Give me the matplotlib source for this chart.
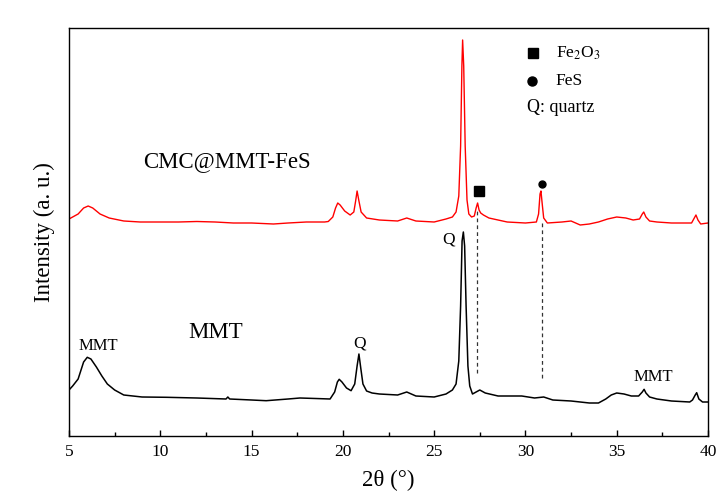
import matplotlib
matplotlib.use("Agg")
import matplotlib.pyplot as plt
import numpy as np

plt.rcParams['font.family'] = ['Liberation Serif', 'DejaVu Serif']
plt.rcParams['mathtext.fontset'] = 'stix'

# ---- data (2theta, intensity in a.u.) ----
cmc_2theta = [5.0, 5.5, 5.8, 6.05, 6.3, 6.7, 7.2, 8.0, 8.9, 10.0, 11.0, 12.0, 13.0, 14.0,
              15.0, 16.2, 17.0, 18.0, 19.0, 19.2, 19.45, 19.6, 19.72, 19.85, 20.1, 20.4,
              20.6, 20.7, 20.78, 20.87, 21.0, 21.3, 22.0, 23.0, 23.5, 24.0, 25.0, 25.65,
              26.0, 26.2, 26.35, 26.45, 26.52, 26.56, 26.62, 26.7, 26.8, 26.9, 27.05,
              27.2, 27.3, 27.38, 27.46, 27.55, 27.7, 28.0, 28.5, 29.0, 30.0, 30.6, 30.72,
              30.8, 30.85, 30.92, 31.0, 31.2, 32.0, 32.5, 33.0, 33.5, 34.0, 34.5, 35.0,
              35.5, 35.9, 36.25, 36.4, 36.48, 36.6, 36.8, 37.2, 38.0, 39.0, 39.1, 39.25,
              39.34, 39.45, 39.6, 40.0]
cmc_int = [217, 222, 228, 230, 228, 222, 218, 215, 214, 214, 214, 214.5, 214, 213,
           213, 212, 213, 214, 214, 214.5, 219, 228, 233, 231, 225, 221,
           224, 235, 245, 236, 224, 218, 216, 215, 218, 215, 214, 217,
           219, 224, 240, 290, 370, 396, 370, 290, 236, 222, 219,
           220, 228, 233, 226, 223, 221, 218, 216, 214, 213, 214, 222,
           242, 245, 232, 218, 213, 214, 215, 211, 212, 214, 217, 219,
           218, 216, 217, 222, 224, 219, 215, 214, 213, 213, 213, 218,
           221, 216, 212, 213]

mmt_2theta = [5.0, 5.2, 5.5, 5.8, 6.0, 6.2, 6.5, 6.8, 7.1, 7.5, 8.0, 9.0, 10.35, 12.0,
              13.6, 13.7, 13.8, 15.0, 15.8, 17.0, 17.65, 18.5, 19.3, 19.55, 19.7, 19.8,
              19.95, 20.2, 20.45, 20.65, 20.78, 20.88, 20.98, 21.1, 21.3, 21.6, 22.0,
              23.0, 23.5, 24.0, 25.0, 25.65, 26.0, 26.2, 26.35, 26.45, 26.53, 26.6,
              26.67, 26.75, 26.85, 26.95, 27.1, 27.5, 27.8, 28.5, 29.8, 30.5, 31.0,
              31.5, 32.5, 33.5, 34.0, 34.4, 34.7, 35.0, 35.4, 35.8, 36.2, 36.4, 36.5,
              36.6, 36.8, 37.2, 38.0, 39.0, 39.15, 39.3, 39.38, 39.5, 39.7, 40.0]
mmt_int = [46, 50, 57, 74, 78.7, 77, 69, 60, 52, 46, 41, 39, 38.7, 38,
           37, 39, 37, 36, 35.3, 37, 38, 37.5, 37, 44, 54, 56.7,
           54, 48, 45.3, 52, 70, 82, 68, 52, 45, 43, 42,
           41, 44, 40, 39, 42, 46, 52, 75, 130, 195, 204,
           190, 130, 70, 50, 42, 46, 43, 40, 40, 38, 39,
           36, 35, 33, 33, 37, 41, 43, 42, 40, 40, 44, 46.7,
           43, 39, 37, 35, 34, 36, 41, 43.3, 37, 34, 34]

dash_2theta = [27.35, 30.9]
dash_top = [226, 213]
dash_bottom = [63, 58]

fig = plt.figure(figsize=(7.19, 5.01), dpi=100)
ax = fig.add_axes([69/719, 1-436/501, (708-69)/719, (436-28)/501])

ax.plot(cmc_2theta, cmc_int, color='red', lw=1.0)
ax.plot(mmt_2theta, mmt_int, color='black', lw=1.1)
ax.vlines(dash_2theta, dash_bottom, dash_top, colors='#333333', linestyles=(0, (3, 2.5)), lw=0.9)

# peak markers
ax.plot([27.45], [245], marker='s', color='black', ms=7, ls='none')
ax.plot([30.89], [251.7], marker='o', color='black', ms=5, ls='none')

# legend-like annotation
ax.plot([30.39], [382.7], marker='s', color='black', ms=6.5, ls='none')
ax.plot([30.34], [355], marker='o', color='black', ms=6.5, ls='none')
ax.text(31.67, 382.7, r'Fe$_2$O$_3$', fontsize=12.5, va='center', ha='left')
ax.text(31.67, 355, 'FeS', fontsize=12.5, va='center', ha='left')
ax.text(30.07, 329, 'Q: quartz', fontsize=13, va='center', ha='left')

# labels on the plot
ax.text(13.65, 274, 'CMC@MMT-FeS', fontsize=16.5, ha='center', va='center')
ax.text(13.05, 103, 'MMT', fontsize=16.5, ha='center', va='center')
ax.text(6.59, 90, 'MMT', fontsize=12, ha='center', va='center')
ax.text(37.0, 59, 'MMT', fontsize=12, ha='center', va='center')
ax.text(20.9, 93, 'Q', fontsize=12.5, ha='center', va='center')
ax.text(25.81, 196, 'Q', fontsize=12.5, ha='center', va='center')

ax.set_xlim(5, 40)
ax.set_ylim(0, 408)
ax.set_xticks([5, 10, 15, 20, 25, 30, 35, 40])
ax.set_xticks(np.arange(7.5, 40, 5), minor=True)
ax.set_yticks([])
ax.tick_params(axis='x', which='major', direction='in', length=4, width=1, labelsize=12.5, pad=6)
ax.tick_params(axis='x', which='minor', direction='in', length=3, width=1)
for s in ax.spines.values():
    s.set_linewidth(1.0)

ax.set_xlabel('2θ (°)', fontsize=16.5, labelpad=7)
ax.set_ylabel('Intensity (a. u.)', fontsize=16.5, labelpad=10)

fig.savefig('out.png', dpi=100)
